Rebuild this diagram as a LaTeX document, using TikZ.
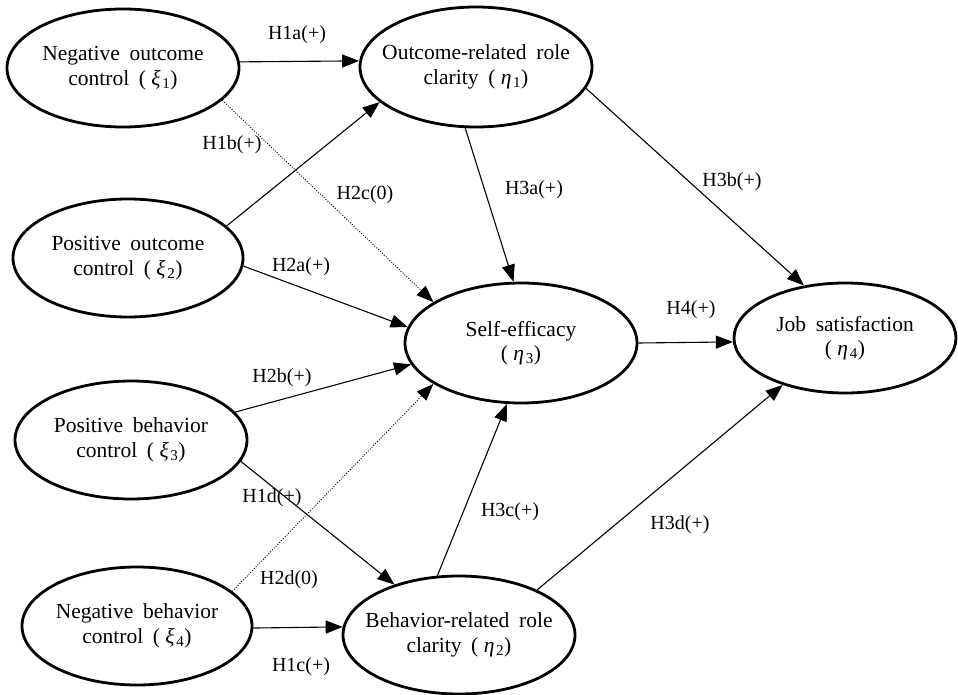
\documentclass[tikz,border=0pt]{standalone}
\usepackage{fontspec}
\setmainfont{Liberation Serif}[WordSpace=1.8]
\usetikzlibrary{shapes.geometric,arrows.meta}
\newcommand{\latvar}[2]{(\hspace{0.25em}\textit{#1}\hspace{0.08em}\textsubscript{#2})}
\begin{document}
\begin{tikzpicture}[x=1pt,y=-1pt,
  latent/.style={ellipse,draw,line width=2.8pt,inner xsep=-30pt,inner ysep=0pt,align=center,
    minimum width=232pt,minimum height=118pt,font=\fontsize{21.5}{24.5}\selectfont},
  hpath/.style={line width=1.1pt,-{Triangle[length=17pt,width=13pt]}},
  nullpath/.style={line width=0.9pt,dash pattern=on 1pt off 1.6pt,-{Triangle[length=17pt,width=13pt]}},
  lab/.style={font=\fontsize{20}{23}\selectfont,inner sep=0pt}]
\useasboundingbox (0,0) rectangle (958,695);

% latent variables
\node[latent] (xi1) at (123,68) {Negative outcome\\control \latvar{ξ}{1}};
\node[latent,minimum height=120pt] (eta1) at (476,67) {Outcome-related role\\clarity \latvar{η}{1}};
\node[latent,minimum width=230pt] (xi2) at (128,258) {Positive outcome\\control \latvar{ξ}{2}};
\node[latent,minimum height=120pt] (eta3) at (521,343) {Self-efficacy\\\latvar{η}{3}};
\node[latent,minimum width=222pt,minimum height=110pt] (eta4) at (845,338) {Job satisfaction\\\latvar{η}{4}};
\node[latent] (xi3) at (131,440) {Positive behavior\\control \latvar{ξ}{3}};
\node[latent,minimum width=230pt] (xi4) at (137,626) {Negative behavior\\control \latvar{ξ}{4}};
\node[latent] (eta2) at (459,635) {Behavior-related role\\clarity \latvar{η}{2}};

% paths
\draw[hpath] (xi1.3.5) -- (eta1.177);
\draw[hpath] (xi2.18.4) -- (eta1.200.2);
\draw[nullpath] (xi1.-18.8) -- (eta3.155);
\draw[hpath] (xi2.-4.5) -- (eta3.172.6);
\draw[hpath] (xi3.15.6) -- (eta3.191.5);
\draw[nullpath] (xi4.20.2) -- (eta3.205.3);
\draw[hpath] (xi3.-11.2) -- (eta2.142);
\draw[hpath] (xi4.-1) -- (eta2.176.5);
\draw[hpath] (eta1.260.5) -- (eta3.97.6);
\draw[hpath] (eta1.-11.7) -- (eta4.128.7);
\draw[hpath] (eta2.110.4) -- (eta3.257.6);
\draw[hpath] (eta2.30.3) -- (eta4.217.2);
\draw[hpath] (eta3.0) -- (eta4.182.6);

% labels
\node[lab] (l1a) at (297,35) {H1a(+)};
\node[lab] (l1b) at (232,145) {H1b(+)};
\node[lab] (l2c) at (365,195) {H2c(0)};
\node[lab] (l2a) at (301,267) {H2a(+)};
\node[lab] (l3a) at (534,190) {H3a(+)};
\node[lab] (l3b) at (732,182) {H3b(+)};
\node[lab] (l4) at (691,310) {H4(+)};
\node[lab] (l2b) at (282,378) {H2b(+)};
\node[lab] (l1d) at (272,498) {H1d(+)};
\node[lab] (l2d) at (289,580) {H2d(0)};
\node[lab] (l1c) at (301,667) {H1c(+)};
\node[lab] (l3c) at (510,512) {H3c(+)};
\node[lab] (l3d) at (680,525) {H3d(+)};
\end{tikzpicture}
\end{document}
